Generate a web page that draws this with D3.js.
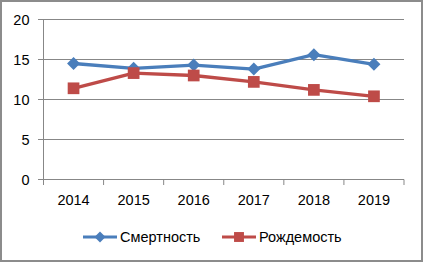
<!DOCTYPE html>
<html>
<head>
<meta charset="utf-8">
<script src="https://cdn.jsdelivr.net/npm/d3@7"></script>
<style>
  body { margin: 0; background: #fff; }
  svg { display: block; font-family: "Liberation Sans", Arial, sans-serif; }
</style>
</head>
<body>
<div id="chart"></div>
<script>
// данные по годам
const years = ['2014', '2015', '2016', '2017', '2018', '2019']
const smertnost = [14.5, 13.9, 14.3, 13.8, 15.6, 14.4]
const rozhdaemost = [11.4, 13.3, 13.0, 12.2, 11.2, 10.4]
const yTicks = [0, 5, 10, 15, 20]

const width = 423
const height = 262

const svg = d3.select('#chart')
    .append('svg')
    .attr('width', width)
    .attr('height', height)

// рамка
svg.append('rect')
    .attr('x', 1).attr('y', 1)
    .attr('width', width - 2).attr('height', height - 2)
    .attr('fill', '#fff')
    .attr('stroke', '#8c8c8c')
    .attr('stroke-width', 2)

const xScale = d3.scaleBand()
    .domain(years)
    .range([43.5, 404])

const yScale = d3.scaleLinear()
    .domain([0, 20])
    .range([179.5, 19.5])

// сетка
svg.append('g')
    .selectAll('line')
    .data(yTicks)
    .enter()
    .append('line')
    .attr('x1', 38)
    .attr('x2', 404)
    .attr('y1', d => yScale(d))
    .attr('y2', d => yScale(d))
    .attr('stroke', '#878787')
    .attr('stroke-width', 1)

// ось y
const yAxis = svg.append('g')
    .attr('transform', 'translate(43.5,0)')
    .call(d3.axisLeft(yScale).tickValues(yTicks).tickSize(5).tickPadding(9))
yAxis.select('.domain').attr('stroke', '#878787').attr('d', 'M0,19.5V184')
yAxis.selectAll('.tick line').remove()
yAxis.selectAll('text').attr('font-size', 14.5).attr('fill', '#000').attr('font-family', null)

// ось x
const xAxis = svg.append('g')
    .attr('transform', 'translate(0,179.5)')
    .call(d3.axisBottom(xScale).tickSize(0).tickPadding(15))
xAxis.select('.domain').attr('stroke', '#878787').attr('d', 'M43.5,0H404')
xAxis.selectAll('text').attr('font-size', 14.5).attr('fill', '#000').attr('font-family', null)

// засечки между категориями
svg.append('g')
    .selectAll('line')
    .data(years.concat(['end']))
    .enter()
    .append('line')
    .attr('x1', (d, i) => i < years.length ? xScale(d) : xScale.range()[1])
    .attr('x2', (d, i) => i < years.length ? xScale(d) : xScale.range()[1])
    .attr('y1', 179.5)
    .attr('y2', 185)
    .attr('stroke', '#878787')

const cx = d => xScale(d) + xScale.bandwidth() / 2

const line = d3.line()
    .x(d => cx(d.year))
    .y(d => yScale(d.value))

const series = [
    { name: 'Смертность', values: smertnost, color: '#4A7EBB', marker: 'diamond' },
    { name: 'Рождемость', values: rozhdaemost, color: '#BE4B48', marker: 'square' }
]

function drawMarker(g, type, color, r) {
    if (type === 'diamond') {
        g.append('path')
            .attr('d', `M0,${-r}L${r},0L0,${r}L${-r},0Z`)
            .attr('fill', color)
    } else {
        const a = r * 0.9
        g.append('rect')
            .attr('x', -a).attr('y', -a)
            .attr('width', 2 * a).attr('height', 2 * a)
            .attr('fill', color)
    }
}

series.forEach(s => {
    const pts = years.map((y, i) => ({ year: y, value: s.values[i] }))
    svg.append('path')
        .datum(pts)
        .attr('d', line)
        .attr('fill', 'none')
        .attr('stroke', s.color)
        .attr('stroke-width', 3.3)
        .attr('stroke-linejoin', 'round')
    pts.forEach(p => {
        const g = svg.append('g').attr('transform', `translate(${cx(p.year)},${yScale(p.value)})`)
        drawMarker(g, s.marker, s.color, 6.5)
    })
})

// легенда
const legendPos = [83, 222]
series.forEach((s, i) => {
    const lg = svg.append('g').attr('transform', `translate(${legendPos[i]},237)`)
    lg.append('line')
        .attr('x1', 0).attr('x2', 34)
        .attr('stroke', s.color)
        .attr('stroke-width', 3)
    const m = lg.append('g').attr('transform', 'translate(17,0)')
    drawMarker(m, s.marker, s.color, 5.5)
    lg.append('text')
        .attr('x', 37)
        .attr('y', 5)
        .attr('font-size', 14.5)
        .text(s.name)
})
</script>
</body>
</html>
